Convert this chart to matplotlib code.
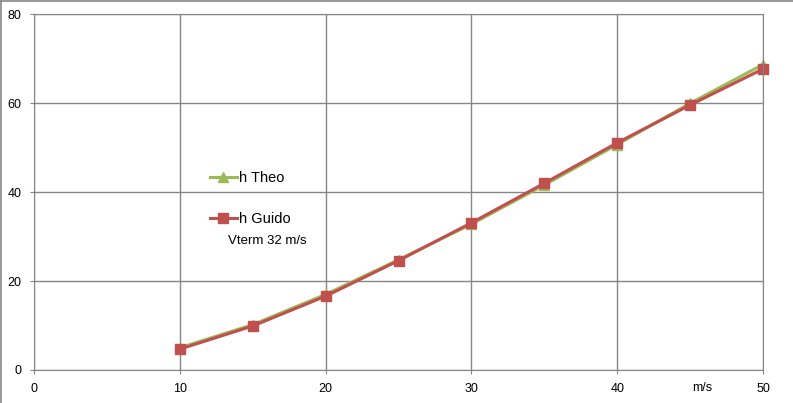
import matplotlib.pyplot as plt
from matplotlib.lines import Line2D

# speed (m/s) and height values
v = [10, 15, 20, 25, 30, 35, 40, 45, 50]
h_theo = [5.0, 10.2, 17.0, 24.8, 32.8, 41.6, 50.7, 60.0, 68.7]
h_guido = [4.7, 9.9, 16.6, 24.6, 33.1, 42.0, 51.1, 59.6, 67.7]

x_ticks = [0, 10, 20, 30, 40, 50]
y_ticks = [0, 20, 40, 60, 80]

plt.rcParams['font.family'] = ['Liberation Sans', 'DejaVu Sans']
grid_col = '#868686'
green = '#9BBB59'
red = '#C0504D'

fig = plt.figure(figsize=(7.93, 4.03), dpi=100)
ax = fig.add_axes([34 / 793, 33 / 403, 729 / 793, 355.7 / 403])

ax.plot(v, h_theo, color=green, lw=2.2, marker='^', ms=7.5, label='h Theo', clip_on=False)
ax.plot(v, h_guido, color=red, lw=2.2, marker='s', ms=7.5, label='h Guido', clip_on=False)

ax.set_xlim(0, 50)
ax.set_ylim(0, 80)
ax.set_xticks(x_ticks)
ax.set_yticks(y_ticks)
ax.grid(True, color=grid_col, lw=1)
ax.set_axisbelow(True)
for s in ax.spines.values():
    s.set_color(grid_col)
ax.tick_params(colors=grid_col, labelcolor='black', labelsize=9, length=3, pad=6)

ax.legend(loc='center left', bbox_to_anchor=(203 / 793, 1 - 198.5 / 403),
          bbox_transform=fig.transFigure, frameon=False, fontsize=10.5,
          handlelength=1.8, handletextpad=0.15, labelspacing=1.85, borderpad=0)

fig.text(228 / 793, 1 - 241 / 403, 'Vterm 32 m/s', fontsize=9.5, va='center')
fig.text(702 / 793, 1 - 388 / 403, 'm/s', fontsize=9, va='center', ha='center')

# outer chart frame (top and left edge)
fig.add_artist(Line2D([0.5 / 793, 0.5 / 793], [0, 1], color=grid_col, lw=1.2))
fig.add_artist(Line2D([0, 1], [1 - 1 / 403, 1 - 1 / 403], color=grid_col, lw=1.2))

fig.savefig('out.png', dpi=100)
